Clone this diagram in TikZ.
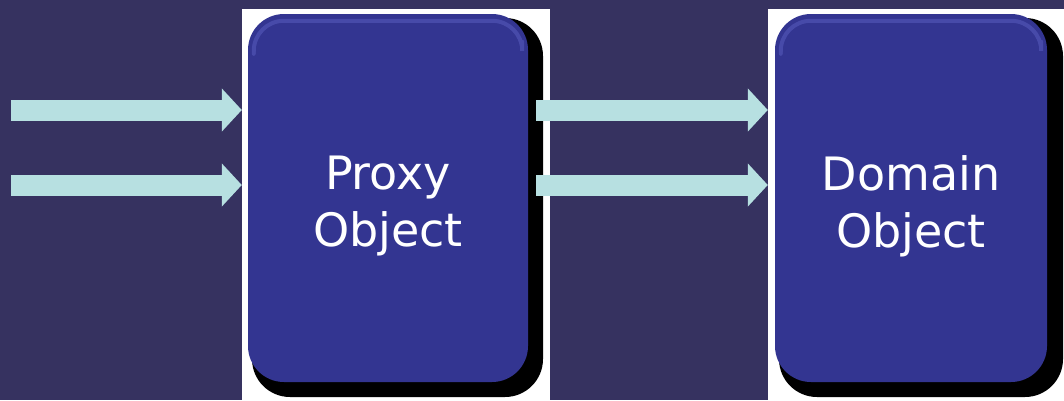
\documentclass[tikz,border=0pt]{standalone}
\usepackage{fontspec}
\setsansfont{DejaVu Sans}
\usetikzlibrary{arrows.meta}

\definecolor{bgpurple}{RGB}{54,50,96}
\definecolor{boxblue}{RGB}{51,53,145}
\definecolor{boxlight}{RGB}{88,92,190}
\definecolor{flowcyan}{RGB}{183,224,225}

\tikzset{
  panel/.style={fill=white, draw=none, inner sep=0pt, rectangle},
  objbox/.style={fill=boxblue, draw=none, rounded corners=36pt, inner sep=0pt, rectangle},
  objshadow/.style={fill=black, rounded corners=38pt},
  gloss/.style={draw=boxlight, line width=4pt, rounded corners=30pt, opacity=0.55, line cap=round},
  objlabel/.style={text=white, font=\sffamily\fontsize{46}{57}\selectfont, align=center, inner sep=0pt},
  flow/.style={draw=flowcyan, line width=21pt,
    -{Triangle[length=20pt,width=42pt,fill=flowcyan]}}
}

\begin{document}
\begin{tikzpicture}[x=1pt,y=-1pt]
  \useasboundingbox (0,0) rectangle (1064,400);
  \fill[bgpurple] (0,0) rectangle (1064,400);

  % white panels behind the two objects
  \node[panel, minimum width=308pt, minimum height=391pt] (proxypanel) at (396,204.5) {};
  \node[panel, minimum width=296pt, minimum height=391pt] (domainpanel) at (916,204.5) {};

  % drop shadows
  \fill[objshadow] (252,18) rectangle (543,397);
  \fill[objshadow] (779,18) rectangle (1063,397);

  % the two objects
  \node[objbox, minimum width=280pt, minimum height=368pt] (proxy) at (388,198) {};
  \node[objbox, minimum width=272pt, minimum height=368pt] (domain) at (911,198) {};

  % soft glossy rim along the top edge
  \draw[gloss] ([xshift=6pt,yshift=-40pt]proxy.north west) -- ([xshift=6pt,yshift=-7pt]proxy.north west)
               -- ([xshift=-6pt,yshift=-7pt]proxy.north east) -- ([xshift=-6pt,yshift=-28pt]proxy.north east);
  \draw[gloss] ([xshift=6pt,yshift=-40pt]domain.north west) -- ([xshift=6pt,yshift=-7pt]domain.north west)
               -- ([xshift=-6pt,yshift=-7pt]domain.north east) -- ([xshift=-6pt,yshift=-28pt]domain.north east);
  % repaint the face so only the rim stays visible
  \fill[boxblue, rounded corners=30pt] ([xshift=8pt,yshift=-11pt]proxy.north west) rectangle ([xshift=-8pt,yshift=8pt]proxy.south east);
  \fill[boxblue, rounded corners=30pt] ([xshift=8pt,yshift=-11pt]domain.north west) rectangle ([xshift=-8pt,yshift=8pt]domain.south east);

  % labels
  \node[objlabel] (proxytext) at ([yshift=-8pt]proxy.center) {Proxy\\Object};
  \node[objlabel] (domaintext) at ([yshift=-8pt]domain.center) {Domain\\Object};

  % incoming calls
  \coordinate (in1) at (11,110);
  \coordinate (in2) at (11,185);
  \draw[flow] (in1) -- (in1 -| proxypanel.west);
  \draw[flow] (in2) -- (in2 -| proxypanel.west);

  % forwarded calls
  \coordinate (fw1) at (536,110);
  \coordinate (fw2) at (536,185);
  \draw[flow] (fw1) -- (fw1 -| domainpanel.west);
  \draw[flow] (fw2) -- (fw2 -| domainpanel.west);
\end{tikzpicture}
\end{document}
